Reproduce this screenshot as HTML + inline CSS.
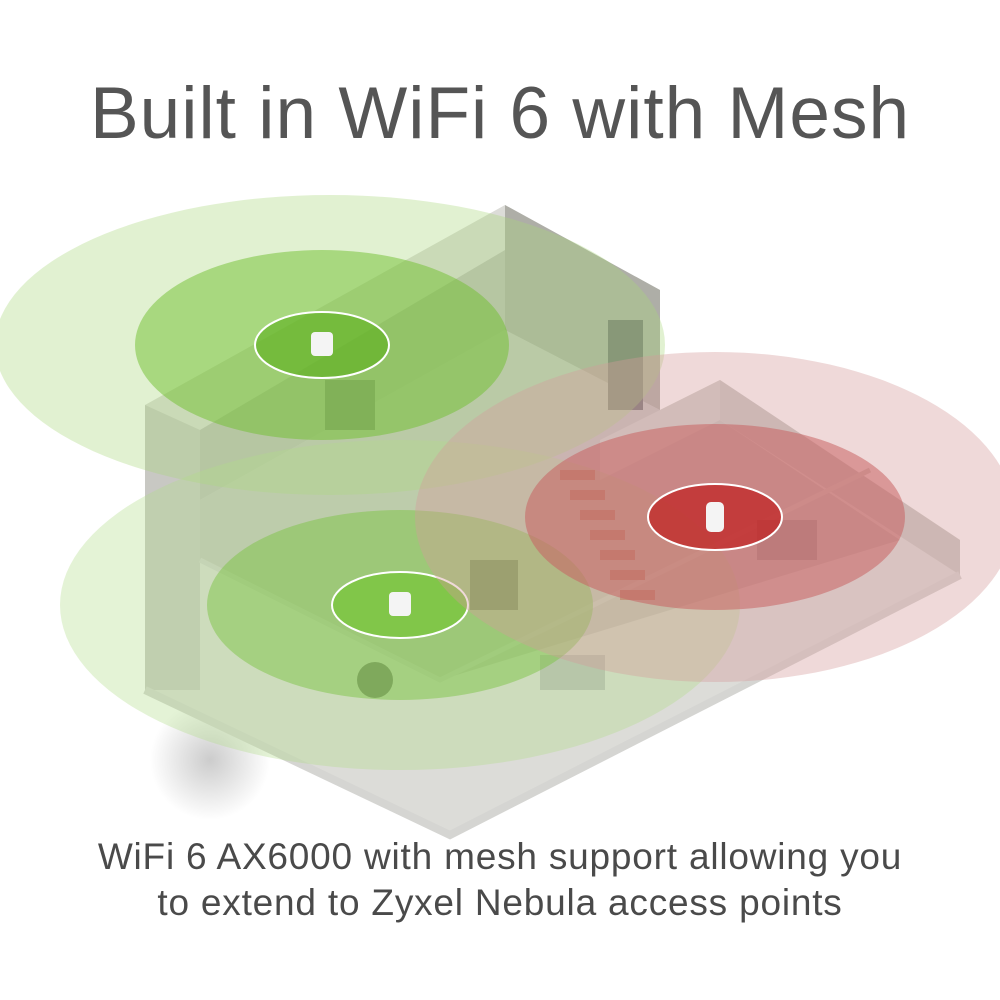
<!DOCTYPE html>
<html><head><meta charset="utf-8"><style>
html,body{margin:0;padding:0;background:#fff;}
body{width:1000px;height:1000px;position:relative;overflow:hidden;font-family:"Liberation Sans",sans-serif;}
.t{position:absolute;left:0;width:1000px;text-align:center;color:#555;}
svg{position:absolute;left:0;top:0;}
</style></head><body>
<svg width="1000" height="1000" xmlns="http://www.w3.org/2000/svg">
<defs><radialGradient id="sh" cx="0.5" cy="0.5" r="0.5"><stop offset="0" stop-color="#999" stop-opacity="0.5"/><stop offset="1" stop-color="#999" stop-opacity="0"/></radialGradient></defs>
<ellipse cx="210" cy="760" rx="60" ry="60" fill="url(#sh)"/>
<polygon points="145,405 145,690 450,835 960,575 960,540 720,380 660,410 660,290 505,205 145,405" fill="#dcdcd8"/>
<polygon points="200,500 505,330 660,410 720,420 900,540 440,680 200,560" fill="#c4c4be"/>
<polygon points="505,205 660,290 660,410 505,330" fill="#aeaea7"/>
<polygon points="200,430 505,250 505,330 200,500" fill="#bdbdb7"/>
<polygon points="145,405 200,430 200,690 145,690" fill="#c8c8c3"/>
<polygon points="720,380 960,540 960,575 720,420" fill="#c9c9c4"/>
<polygon points="600,440 720,380 720,420 600,480" fill="#d0d0cb"/>
<polyline points="145,690 450,835 960,575" fill="none" stroke="#d5d5d2" stroke-width="8"/>
<polyline points="200,560 440,680 870,470" fill="none" stroke="#d0d0cc" stroke-width="5"/>
<g fill="#b86a5a">
<rect x="560" y="470" width="35" height="10"/><rect x="570" y="490" width="35" height="10"/><rect x="580" y="510" width="35" height="10"/><rect x="590" y="530" width="35" height="10"/><rect x="600" y="550" width="35" height="10"/><rect x="610" y="570" width="35" height="10"/><rect x="620" y="590" width="35" height="10"/>
</g>
<rect x="470" y="560" width="48" height="50" fill="#555"/>
<rect x="540" y="655" width="65" height="35" fill="#bbb"/>
<rect x="608" y="320" width="35" height="90" fill="#777"/>
<rect x="325" y="380" width="50" height="50" fill="#888"/>
<rect x="757" y="520" width="60" height="40" fill="#999"/>
<circle cx="375" cy="680" r="18" fill="#666"/>
<ellipse cx="330" cy="345" rx="335" ry="150" fill="#a8d77a" fill-opacity="0.35"/>
<ellipse cx="322" cy="345" rx="187" ry="95" fill="#6fbf2e" fill-opacity="0.5"/>
<ellipse cx="322" cy="345" rx="67" ry="33" fill="#5aaf1a" fill-opacity="0.6" stroke="#fff" stroke-width="2"/>
<ellipse cx="400" cy="605" rx="340" ry="165" fill="#b3dc8a" fill-opacity="0.35"/>
<ellipse cx="400" cy="605" rx="193" ry="95" fill="#7dc446" fill-opacity="0.5"/>
<ellipse cx="400" cy="605" rx="68" ry="33" fill="#6ec52a" fill-opacity="0.6" stroke="#fff" stroke-width="2"/>
<ellipse cx="715" cy="517" rx="300" ry="165" fill="#d59a9a" fill-opacity="0.38"/>
<ellipse cx="715" cy="517" rx="190" ry="93" fill="#c86262" fill-opacity="0.55"/>
<ellipse cx="715" cy="517" rx="67" ry="33" fill="#c11e1e" fill-opacity="0.7" stroke="#fff" stroke-width="2"/>
<rect x="311" y="332" width="22" height="24" rx="4" fill="#f4f4f4"/>
<rect x="389" y="592" width="22" height="24" rx="4" fill="#f4f4f4"/>
<rect x="706" y="502" width="18" height="30" rx="5" fill="#f4f4f4"/>
</svg>
<div class="t" style="top:72px;font-size:73px;letter-spacing:1px;">Built in WiFi 6 with Mesh</div>
<div class="t" style="top:834px;font-size:37px;letter-spacing:0.8px;line-height:46px;color:#4a4a4a;">WiFi 6 AX6000 with mesh support allowing you<br>to extend to Zyxel Nebula access points</div>
</body></html>
